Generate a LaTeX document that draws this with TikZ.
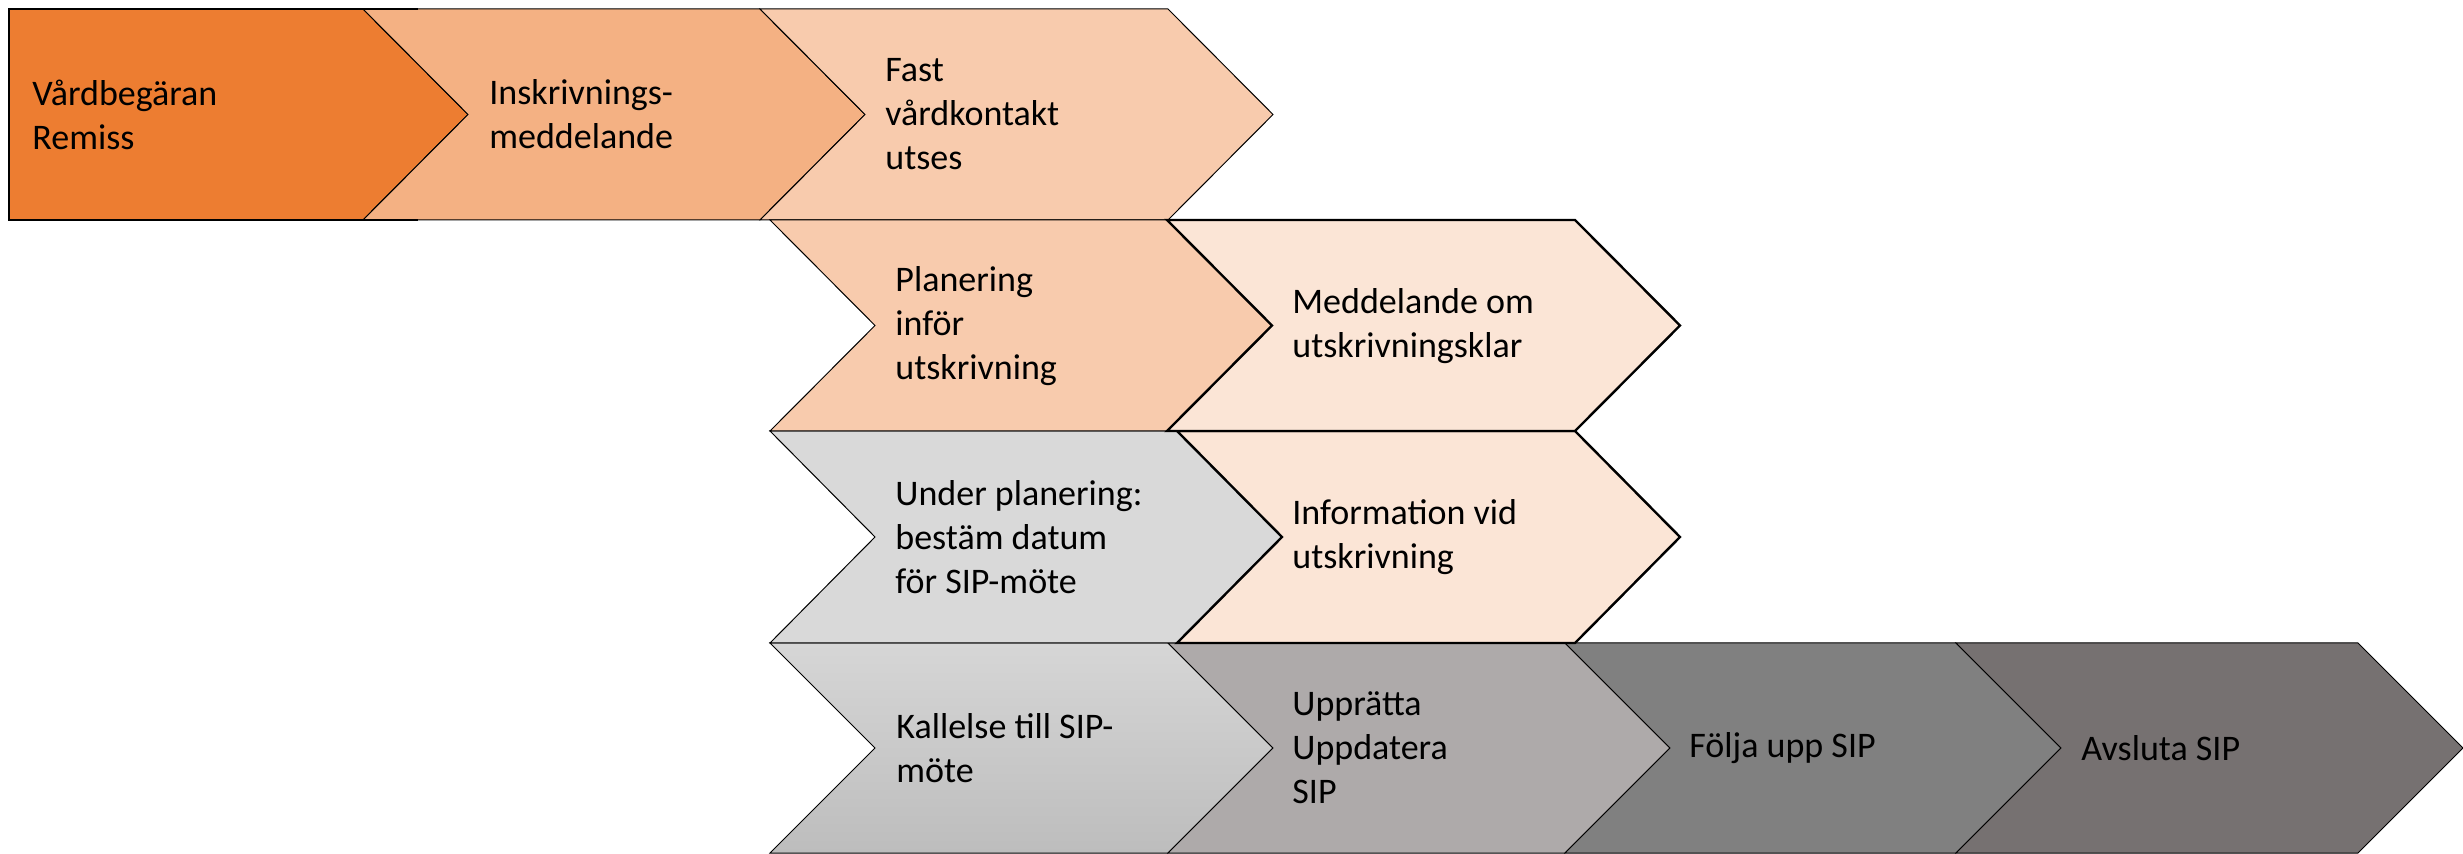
\documentclass[tikz,border=0pt]{standalone}
\usepackage{fontspec}
\setmainfont{Carlito}
\definecolor{cA}{HTML}{ED7D31}
\definecolor{cB}{HTML}{F4B183}
\definecolor{cC}{HTML}{F8CBAD}
\definecolor{cD}{HTML}{FBE5D6}
\definecolor{gA}{HTML}{D9D9D9}
\definecolor{gBt}{HTML}{D6D6D6}
\definecolor{gBb}{HTML}{BDBDBD}
\definecolor{gC}{HTML}{AEAAAA}
\definecolor{gD}{HTML}{808080}
\definecolor{gE}{HTML}{767171}
\newcommand\mychev[6]{% xl, xs, yt, yb, depth, style
  \path[#6] (#1,#3) -- (#2,#3) -- ({#2+#5},{(#3+#4)/2}) -- (#2,#4) -- (#1,#4) -- ({#1+#5},{(#3+#4)/2}) -- cycle;}
\begin{document}
\begin{tikzpicture}[x=0.5pt,y=-0.5pt,
  shp/.style={draw=black, line width=0.5pt, line join=miter},
  thk/.style={draw=black, line width=1.2pt, line join=miter},
  lbl/.style={anchor=west, align=left, inner sep=0pt, text=black,
    font=\fontsize{18}{22}\selectfont}]
\useasboundingbox (0,0) rectangle (2463,854);
% row 1
\path[shp, fill=cA] (9,9) -- (363,9) -- (468,114.5) -- (363,220) -- (9,220) -- cycle;
\mychev{363}{760}{9}{220}{105}{shp, fill=cB}
\mychev{760}{1168}{9}{220}{105}{shp, fill=cC}
\draw[line width=1.2pt] (418,9) -- (9,9) -- (9,220) -- (418,220);
% row 4
\mychev{770}{1168}{643}{853}{105}{shp, top color=gBt, bottom color=gBb}
\mychev{1168}{1565}{643}{853}{105}{shp, fill=gC}
\mychev{1565}{1956}{643}{853}{105}{shp, fill=gD}
\mychev{1956}{2358}{643}{853}{105}{shp, fill=gE}
% row 3
\mychev{770}{1177}{431}{643}{105}{shp, fill=gA}
\mychev{1177}{1575}{431}{643}{105}{thk, fill=cD}
% row 2
\mychev{770}{1167}{220}{431}{105}{shp, fill=cC}
\mychev{1167}{1575}{220}{431}{105}{thk, fill=cD}
% labels
\node[lbl] (t1) at (32,114.5) {Vårdbegäran\\Remiss};
\node[lbl] (t2) at (489,114.5) {Inskrivnings-\\meddelande};
\node[lbl] (t3) at (885,114.5) {Fast\\vårdkontakt\\utses};
\node[lbl] (t4) at (895,326) {Planering\\inför\\utskrivning};
\node[lbl] (t5) at (1292,326) {Meddelande om\\utskrivningsklar};
\node[lbl] (t6) at (895,537) {Under planering:\\bestäm datum\\för SIP-möte};
\node[lbl] (t7) at (1292,537) {Information vid\\utskrivning};
\node[lbl] (t8) at (896,748) {Kallelse till SIP-\\möte};
\node[lbl] (t9) at (1292,748) {Upprätta\\Uppdatera\\SIP};
\node[lbl] (t10) at (1689,748) {Följa upp SIP};
\node[lbl] (t11) at (2081,748) {Avsluta SIP};
\end{tikzpicture}
\end{document}
